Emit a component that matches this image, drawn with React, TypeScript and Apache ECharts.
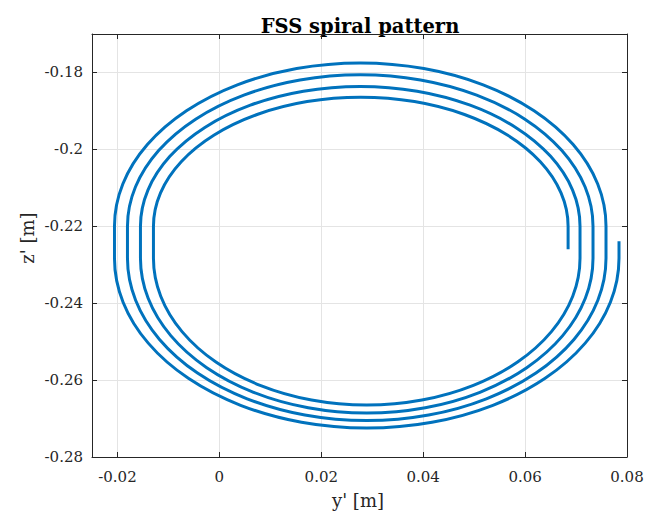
import React, { useEffect, useRef } from "react";
import * as echarts from "echarts";

const TITLE = "FSS spiral pattern";
const X_NAME = "y' [m]";
const Y_NAME = "z' [m]";
const X_RANGE = [-0.025, 0.08];
const Y_RANGE = [-0.28, -0.17];
const X_TICKS = [-0.02, 0, 0.02, 0.04, 0.06, 0.08];
const Y_TICKS = [-0.28, -0.26, -0.24, -0.22, -0.2, -0.18];

// [y', z'] points, in drawing order
const startPoint = [[0.07843, -0.2239]];
const loop1Bottom = [
  [0.07843, -0.22831], [0.07674, -0.23974], [0.0718, -0.25039], [0.06393, -0.25954],
  [0.05368, -0.26655], [0.04173, -0.27096], [0.02892, -0.27247], [0.01611, -0.27096],
  [0.00416, -0.26655], [-0.00609, -0.25954], [-0.01396, -0.25039], [-0.0189, -0.23974],
  [-0.02059, -0.22831],
];
const loop1Top = [
  [-0.02059, -0.22], [-0.01895, -0.20901], [-0.01413, -0.19876], [-0.00646, -0.18997],
  [0.00353, -0.18322], [0.01517, -0.17898], [0.02765, -0.17753], [0.04013, -0.17898],
  [0.05177, -0.18322], [0.06176, -0.18997], [0.06943, -0.19876], [0.07425, -0.20901],
  [0.07588, -0.22],
];
const loop2Bottom = [
  [0.07588, -0.22831], [0.07428, -0.23923], [0.06959, -0.24942], [0.06213, -0.25816],
  [0.0524, -0.26486], [0.04107, -0.26908], [0.02892, -0.27052], [0.01677, -0.26908],
  [0.00544, -0.26486], [-0.00429, -0.25816], [-0.01175, -0.24942], [-0.01644, -0.23923],
  [-0.01804, -0.22831],
];
const loop2Top = [
  [-0.01804, -0.22], [-0.01648, -0.2098], [-0.01192, -0.2003], [-0.00466, -0.19214],
  [0.0048, -0.18588], [0.01583, -0.18194], [0.02765, -0.1806], [0.03947, -0.18194],
  [0.0505, -0.18588], [0.05996, -0.19214], [0.06722, -0.2003], [0.07178, -0.2098],
  [0.07333, -0.22],
];
const loop3Bottom = [
  [0.07333, -0.22831], [0.07182, -0.23873], [0.06738, -0.24844], [0.06032, -0.25678],
  [0.05113, -0.26318], [0.04041, -0.2672], [0.02892, -0.26857], [0.01743, -0.2672],
  [0.00671, -0.26318], [-0.00248, -0.25678], [-0.00954, -0.24844], [-0.01398, -0.23873],
  [-0.01549, -0.22831],
];
const loop3Top = [
  [-0.01549, -0.22], [-0.01402, -0.21059], [-0.00971, -0.20182], [-0.00285, -0.19429],
  [0.00608, -0.18851], [0.01649, -0.18488], [0.02765, -0.18364], [0.03881, -0.18488],
  [0.04922, -0.18851], [0.05815, -0.19429], [0.06501, -0.20182], [0.06932, -0.21059],
  [0.07078, -0.22],
];
const loop4Bottom = [
  [0.07078, -0.22831], [0.06935, -0.23819], [0.06517, -0.2474], [0.05852, -0.25531],
  [0.04985, -0.26137], [0.03975, -0.26519], [0.02892, -0.26649], [0.01809, -0.26519],
  [0.00799, -0.26137], [-0.00068, -0.25531], [-0.00733, -0.2474], [-0.01151, -0.23819],
  [-0.01294, -0.22831],
];
const loop4Top = [
  [-0.01294, -0.22], [-0.01155, -0.21131], [-0.00749, -0.20322], [-0.00102, -0.19627],
  [0.0074, -0.19094], [0.01722, -0.18758], [0.02775, -0.18644], [0.03828, -0.18758],
  [0.0481, -0.19094], [0.05652, -0.19627], [0.06299, -0.20322], [0.06705, -0.21131],
  [0.06844, -0.22],
];
const endPoint = [[0.06844, -0.22597]];

const spiral = [
  ...startPoint,
  ...loop1Bottom, ...loop1Top,
  ...loop2Bottom, ...loop2Top,
  ...loop3Bottom, ...loop3Top,
  ...loop4Bottom, ...loop4Top,
  ...endPoint,
];

const FONT = "'DejaVu Serif', 'Liberation Serif', serif";
const AX = "#262626";
const GRID_COLOR = "#e4e4e4";

const G = { left: 92, top: 34, width: 535, height: 423 };

export default function App() {
  const ref = useRef<HTMLDivElement>(null);
  useEffect(() => {
    if (!ref.current) return;
    const chart = echarts.init(ref.current, null, { renderer: "svg" });
    const axisLine = { show: true, onZero: false, lineStyle: { color: AX, width: 1 } };
    const tickX = { show: true, inside: true, length: 5, customValues: X_TICKS, lineStyle: { color: AX, width: 1 } };
    const tickY = { show: true, inside: true, length: 5, customValues: Y_TICKS, lineStyle: { color: AX, width: 1 } };
    const labelStyle = { color: AX, fontFamily: FONT, fontSize: 15 };
    const option: any = {
      animation: false,
      backgroundColor: "#ffffff",
      grid: { ...G, show: false, containLabel: false },
      xAxis: [
        {
          type: "value", min: X_RANGE[0], max: X_RANGE[1], position: "bottom",
          axisLine, axisTick: tickX,
          axisLabel: { ...labelStyle, customValues: X_TICKS, margin: 12 },
          splitLine: { show: true, customValues: X_TICKS, lineStyle: { color: GRID_COLOR, width: 1 } },
        },
        {
          type: "value", min: X_RANGE[0], max: X_RANGE[1], position: "top",
          axisLine, axisTick: tickX, axisLabel: { show: false }, splitLine: { show: false },
        },
      ],
      yAxis: [
        {
          type: "value", min: Y_RANGE[0], max: Y_RANGE[1], position: "left",
          axisLine, axisTick: tickY,
          axisLabel: { ...labelStyle, customValues: Y_TICKS, margin: 9 },
          splitLine: { show: true, customValues: Y_TICKS, lineStyle: { color: GRID_COLOR, width: 1 } },
        },
        {
          type: "value", min: Y_RANGE[0], max: Y_RANGE[1], position: "right",
          axisLine, axisTick: tickY, axisLabel: { show: false }, splitLine: { show: false },
        },
      ],
      graphic: [
        {
          type: "text", x: 360, y: 26,
          style: { text: TITLE, textAlign: "center", textVerticalAlign: "middle", fontFamily: FONT, fontSize: 19.5, fontWeight: "bold", fill: "#000000" },
        },
        {
          type: "text", x: 358, y: 500,
          style: { text: X_NAME, textAlign: "center", textVerticalAlign: "middle", fontFamily: FONT, fontSize: 18, fill: AX },
        },
        {
          type: "text", x: 27, y: 238, rotation: Math.PI / 2,
          style: { text: Y_NAME, textAlign: "center", textVerticalAlign: "middle", fontFamily: FONT, fontSize: 18, fill: AX },
        },
      ],
      series: [
        {
          type: "line", xAxisIndex: 0, yAxisIndex: 0, data: spiral,
          showSymbol: false, symbol: "none", smooth: 0.35,
          lineStyle: { color: "#0072BD", width: 3 },
        },
      ],
    };
    chart.setOption(option);
    return () => chart.dispose();
  }, []);
  return (
    <div
      ref={ref}
      style={{ position: "fixed", left: 0, top: 0, width: 661, height: 514, background: "#ffffff" }}
    />
  );
}
